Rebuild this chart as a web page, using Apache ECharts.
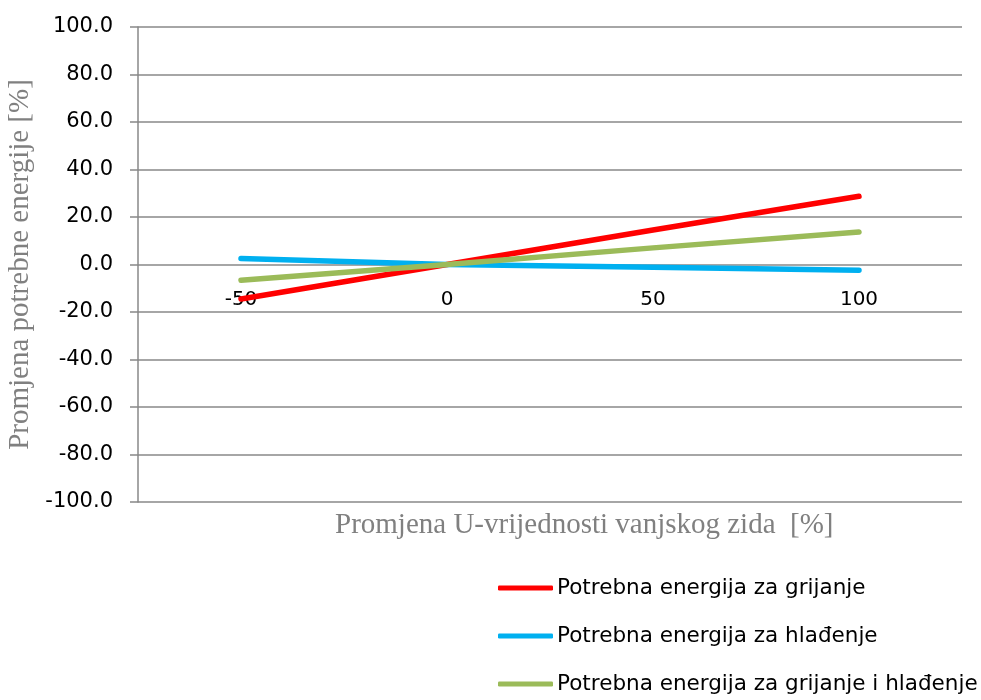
<!DOCTYPE html>
<html><head><meta charset="utf-8">
<script src="https://cdn.jsdelivr.net/npm/echarts@6/dist/echarts.min.js"></script>
<style>html,body{margin:0;padding:0;background:#fff}#c{width:981px;height:700px}</style>
</head><body><div id="c"></div>
<script>
const categories = ['-50', '0', '50', '100'];
const heating = [-14.5, 0, 14.5, 28.7];
const cooling = [2.5, 0, -1.2, -2.4];
const combined = [-6.6, 0, 7.0, 13.7];
const seriesNames = ['Potrebna energija za grijanje', 'Potrebna energija za hlađenje', 'Potrebna energija za grijanje i hlađenje'];
const yTitle = 'Promjena potrebne energije [%]';
const xTitle = 'Promjena U-vrijednosti vanjskog zida  [%]';

const chart = echarts.init(document.getElementById('c'), null, {renderer: 'canvas'});
const colors = ['#ff0000', '#00b0f0', '#9bbb59'];
const gridTop = 27, gridBottom = 198, yMin = -100, yMax = 100;
const plotH = 700 - gridTop - gridBottom;
// move the category axis to the y = 0 crossing (like Excel's axis at zero)
const zeroOffset = -plotH * (0 - yMin) / (yMax - yMin);
function s(name, data, color) {
  return {name, type: 'line', data, symbol: 'none', smooth: false,
    lineStyle: {color, width: 5.5, cap: 'round'}, itemStyle: {color}};
}
chart.setOption({
  animation: false,
  grid: {left: 138, right: 19, top: gridTop, bottom: gridBottom, containLabel: false, outerBoundsMode: 'none'},
  xAxis: {
    type: 'category', data: categories, boundaryGap: true, offset: zeroOffset,
    axisLine: {show: false, onZero: false}, axisTick: {show: false},
    axisLabel: {color: '#000', fontFamily: 'DejaVu Sans', fontSize: 20, margin: 25},
    splitLine: {show: false}
  },
  yAxis: {
    type: 'value', min: yMin, max: yMax, interval: 20,
    name: yTitle, nameLocation: 'middle', nameGap: 98,
    nameTextStyle: {color: '#808080', fontFamily: 'Liberation Serif', fontSize: 29},
    axisLine: {show: true, onZero: false, lineStyle: {color: '#888', width: 1.5}},
    axisTick: {show: true, inside: false, length: 8, lineStyle: {color: '#888', width: 1.5}},
    axisLabel: {color: '#000', fontFamily: 'DejaVu Sans', fontSize: 21, margin: 25,
      formatter: v => v.toFixed(1)},
    splitLine: {show: true, lineStyle: {color: '#888', width: 1.5}}
  },
  legend: {
    orient: 'vertical', left: 498, top: 577, padding: 0, itemWidth: 55, itemHeight: 5, itemGap: 26,
    icon: 'roundRect',
    textStyle: {color: '#000', fontFamily: 'DejaVu Sans', fontSize: 21.5, lineHeight: 20, padding: [0,0,0,-1]},
    data: seriesNames
  },
  graphic: [{
    type: 'text', left: 335, top: 511,
    style: {text: xTitle, fill: '#808080', font: '29px "Liberation Serif"'}
  }],
  series: [
    s(seriesNames[0], heating, colors[0]),
    s(seriesNames[1], cooling, colors[1]),
    s(seriesNames[2], combined, colors[2])
  ]
});
</script></body></html>
